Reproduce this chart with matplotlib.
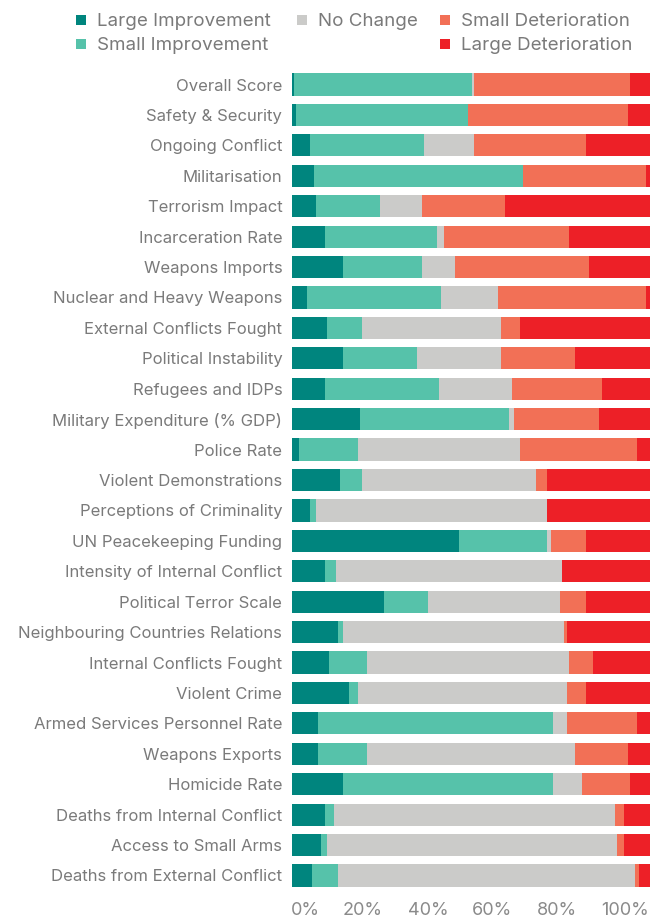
import matplotlib
matplotlib.use("Agg")
import matplotlib.pyplot as plt
from matplotlib.patches import Rectangle
import numpy as np

plt.rcParams['font.family'] = ['Inter', 'DejaVu Sans']

categories = [
    "Overall Score", "Safety & Security", "Ongoing Conflict", "Militarisation",
    "Terrorism Impact", "Incarceration Rate", "Weapons Imports",
    "Nuclear and Heavy Weapons", "External Conflicts Fought", "Political Instability",
    "Refugees and IDPs", "Military Expenditure (% GDP)", "Police Rate",
    "Violent Demonstrations", "Perceptions of Criminality", "UN Peacekeeping Funding",
    "Intensity of Internal Conflict", "Political Terror Scale",
    "Neighbouring Countries Relations", "Internal Conflicts Fought", "Violent Crime",
    "Armed Services Personnel Rate", "Weapons Exports", "Homicide Rate",
    "Deaths from Internal Conflict", "Access to Small Arms", "Deaths from External Conflict",
]

# number of countries (out of 163) in each change group
large_improvement = [1, 2, 8, 10, 11, 15, 23, 7, 16, 23, 15, 31, 3, 22, 8, 76, 15, 42, 21, 17, 26, 12, 12, 23, 15, 13, 9]
small_improvement = [81, 78, 52, 95, 29, 51, 36, 61, 16, 34, 52, 68, 27, 10, 3, 40, 5, 20, 2, 17, 4, 107, 22, 96, 4, 3, 12]
no_change = [1, 0, 23, 0, 19, 3, 15, 26, 63, 38, 33, 2, 74, 79, 105, 2, 103, 60, 101, 92, 95, 6, 95, 13, 128, 132, 135]
small_deterioration = [71, 73, 51, 56, 38, 57, 61, 67, 9, 34, 41, 39, 53, 5, 0, 16, 0, 12, 1, 11, 9, 32, 24, 22, 4, 3, 2]
large_deterioration = [9, 10, 29, 2, 66, 37, 28, 2, 59, 34, 22, 23, 6, 47, 47, 29, 40, 29, 38, 26, 29, 6, 10, 9, 12, 12, 5]

series_names = ["Large Improvement", "Small Improvement", "No Change",
                "Small Deterioration", "Large Deterioration"]
colors = ["#00857E", "#56C2AA", "#CBCBC9", "#F27056", "#ED2027"]
tick_labels = ["0%", "20%", "40%", "60%", "80%", "100%"]

data = np.array([large_improvement, small_improvement, no_change,
                 small_deterioration, large_deterioration], dtype=float)
pct = data / data.sum(axis=0) * 100

W, H = 664, 918
fig = plt.figure(figsize=(W / 100, H / 100), dpi=100)
ax_left, ax_right = 292, 650
ax_top, ax_bot = 69.3, 890.7
ax = fig.add_axes([ax_left / W, 1 - ax_bot / H, (ax_right - ax_left) / W, (ax_bot - ax_top) / H])

y = np.arange(len(categories))
left = np.zeros(len(categories))
for vals, name, c in zip(pct, series_names, colors):
    ax.barh(y, vals, left=left, height=0.73, color=c, linewidth=0, label=name)
    left += vals

ax.set_xlim(0, 100)
ax.set_ylim(len(categories) - 0.5, -0.5)
for s in ax.spines.values():
    s.set_visible(False)
ax.tick_params(axis='both', length=0)
ax.set_yticks(y)
ax.set_yticklabels(categories, fontsize=12, color="#7a7a7a")
ax.tick_params(axis='y', pad=7)

# x tick labels spread evenly across the axis width
ax.set_xticks([3.6, 19.8, 38.0, 55.9, 74.0, 93.0])
ax.set_xticklabels(tick_labels, fontsize=13, color="#8a8a8a")
ax.tick_params(axis='x', pad=8)

# legend laid out in three columns; "No Change" column holds a single entry
legend_slots = [(0, 76, 20), (1, 76, 44), (2, 297, 20), (3, 440, 20), (4, 440, 44)]
for idx, sx, sy in legend_slots:
    fig.patches.append(Rectangle((sx / W, 1 - (sy + 5) / H), 10 / W, 10 / H,
                                 transform=fig.transFigure, facecolor=colors[idx],
                                 edgecolor='none'))
    fig.text((sx + 21) / W, 1 - (sy + 1) / H, series_names[idx], fontsize=13.5,
             color="#7a7a7a", ha='left', va='center')

fig.savefig("out.png", dpi=100)
